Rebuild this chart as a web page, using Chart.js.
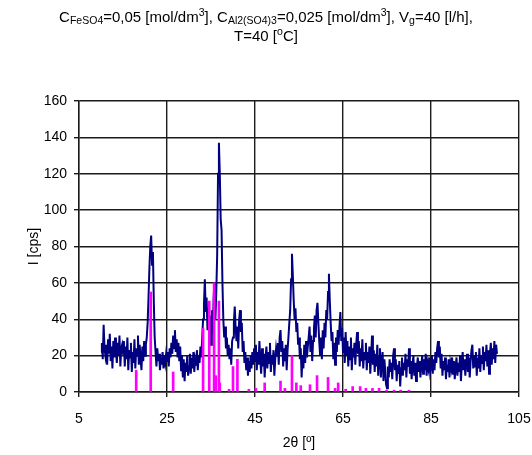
<!DOCTYPE html>
<html>
<head>
<meta charset="utf-8">
<script src="https://cdn.jsdelivr.net/npm/chart.js@4/dist/chart.umd.min.js"></script>
<style>
  html, body { margin: 0; padding: 0; background: #fff; }
  #wrap { position: relative; width: 532px; height: 455px; }
  #title {
    position: absolute; left: 0; top: 7px; width: 532px;
    text-align: center; font-family: "Liberation Sans", Arial, sans-serif;
    font-size: 15px; line-height: 19px; color: #000; z-index: 2;
  }
  #title sub, #title sup { font-size: 10.5px; line-height: 0; }
  #title sub { vertical-align: -2px; }
  #title sup { vertical-align: 6px; }
  canvas { position: absolute; left: 0; top: 0; }
</style>
</head>
<body>
<div id="wrap">
  <canvas id="xrd" width="532" height="455"></canvas>
  <div id="title">C<sub>FeSO4</sub>=0,05 [mol/dm<sup>3</sup>], C<sub>Al2(SO4)3</sub>=0,025 [mol/dm<sup>3</sup>], V<sub>g</sub>=40 [l/h],<br>T=40 [<sup>o</sup>C]</div>
</div>
<script>
// Diffraction scan: 2θ from 10° to 100°, 0.2° step
const scanStart = 10.0;
const scanStep = 0.2;
const intensity = [
  // 10.0 – 14.8
  22, 27, 18, 37, 24, 20, 26, 15, 29, 21, 32, 17, 25, 13, 28, 19, 30, 22, 16, 27, 20, 31, 14, 24, 26,
  // 15.0 – 19.8
  21, 28, 14, 25, 18, 30, 12, 23, 19, 27, 11, 22, 16, 29, 13, 24, 20, 31, 15, 26, 18, 12, 25, 17, 28,
  // 20.0 – 24.8
  20, 26, 30, 38, 52, 68, 80, 86, 70, 77, 50, 30, 22, 14, 24, 17, 21, 12, 19, 15, 22, 13, 20, 16, 21,
  // 25.0 – 29.8
  17, 22, 14, 24, 19, 27, 21, 31, 24, 34, 22, 29, 19, 27, 17, 25, 12, 20, 8, 18, 6, 16, 11, 20, 9,
  // 30.0 – 34.8
  14, 21, 10, 19, 13, 22, 11, 18, 15, 23, 12, 20, 16, 25, 19, 30, 40, 48, 62, 44, 52, 34, 46, 28, 42,
  // 35.0 – 39.8
  26, 45, 32, 52, 60, 40, 55, 75, 120, 137, 120, 95, 89, 60, 40, 30, 36, 24, 30, 20, 26, 18, 24, 15, 28,
  // 40.0 – 44.8
  30, 38, 47, 35, 28, 36, 24, 40, 45, 33, 38, 22, 28, 16, 22, 12, 19, 9, 17, 11, 20, 13, 22, 15, 24,
  // 45.0 – 49.8
  17, 26, 12, 22, 15, 28, 18, 10, 24, 14, 21, 8, 19, 25, 13, 22, 16, 27, 11, 20, 15, 23, 9, 18, 24,
  // 50.0 – 54.8
  20, 27, 15, 30, 34, 22, 28, 14, 24, 17, 26, 12, 23, 30, 38, 45, 62, 76, 64, 50, 40, 46, 33, 38, 26,
  // 55.0 – 59.8
  30, 18, 24, 8, 20, 13, 26, 16, 28, 19, 25, 30, 36, 22, 31, 17, 28, 35, 42, 30, 45, 49, 38, 28, 20,
  // 60.0 – 64.8
  30, 18, 34, 24, 38, 30, 45, 40, 55, 65, 50, 38, 28, 33, 18, 27, 15, 30, 22, 34, 26, 36, 44, 28, 35,
  // 65.0 – 69.8
  22, 30, 16, 33, 20, 28, 14, 25, 18, 30, 12, 24, 19, 27, 15, 26, 33, 21, 28, 14, 24, 17, 29, 13, 22,
  // 70.0 – 74.8
  18, 27, 12, 22, 16, 25, 10, 20, 31, 15, 23, 11, 21, 14, 26, 9, 19, 24, 8, 17, 22, 6, 18, 12, 4,
  // 75.0 – 79.8
  2, 14, 8, 18, 11, 16, 7, 20, 24, 12, 18, 6, 15, 10, 17, 3, 13, 19, 9, 16, 12, 21, 8, 18, 14,
  // 80.0 – 84.8
  24, 10, 17, 7, 15, 20, 9, 16, 6, 14, 19, 11, 17, 8, 15, 20, 10, 18, 12, 21, 9, 16, 13, 19, 11,
  // 85.0 – 89.8
  14, 20, 10, 18, 12, 22, 16, 24, 28, 19, 25, 13, 21, 9, 17, 12, 19, 7, 15, 11, 18, 8, 16, 13, 19,
  // 90.0 – 94.8
  10, 17, 7, 14, 19, 9, 16, 11, 20, 6, 15, 22, 12, 18, 9, 16, 21, 11, 19, 8, 17, 23, 26, 13, 20,
  // 95.0 – 100.0
  14, 22, 9, 19, 13, 24, 11, 20, 16, 25, 12, 22, 17, 26, 14, 23, 10, 21, 27, 15, 24, 18, 28, 16, 26, 21
];

// Reference line positions (2θ) and relative intensities
const refAngles = [18.0, 21.3, 26.4, 33.2, 34.6, 35.7, 36.1, 36.8, 37.0, 39.1, 40.0, 41.0, 43.6, 45.2,
  47.2, 50.8, 51.8, 53.4, 54.4, 55.4, 57.5, 59.1, 61.6, 63.2, 63.9, 65.6, 67.2, 68.9, 70.2, 71.7,
  73.2, 74.9, 76.6, 78.1, 80.0];
const refIntensity = [12, 55, 11, 35, 50, 60, 9, 50, 5, 1.5, 14, 18, 1.5, 2,
  5, 6, 2, 20, 5, 3.5, 4, 9, 8, 2, 5, 1.5, 3, 3, 2, 2,
  2, 1, 1, 1, 1];

const xTicks = { min: 5, max: 105, step: 20 };
const yTicks = { min: 0, max: 160, step: 20 };

const scanPoints = intensity.map((v, i) => ({ x: +(scanStart + i * scanStep).toFixed(1), y: v }));
const refPoints = refAngles.map((a, i) => ({ x: a, y: refIntensity[i] }));

const font = { family: '"Liberation Sans", Arial, sans-serif', size: 14 };
const gridColor = '#1a1a1a';

new Chart(document.getElementById('xrd'), {
  type: 'line',
  data: {
    datasets: [
      {
        type: 'bar',
        data: refPoints,
        backgroundColor: '#ff00ff',
        borderWidth: 0,
        barThickness: 2,
        order: 0
      },
      {
        type: 'line',
        data: scanPoints,
        borderColor: '#000080',
        borderWidth: 2,
        pointRadius: 0,
        tension: 0,
        fill: false,
        order: 1
      }
    ]
  },
  options: {
    responsive: false,
    animation: false,
    devicePixelRatio: 1,
    layout: { padding: { top: 101, right: 13, left: 0, bottom: 0 } },
    plugins: { legend: { display: false }, tooltip: { enabled: false } },
    scales: {
      x: {
        type: 'linear',
        offset: false,
        min: xTicks.min, max: xTicks.max,
        afterFit: s => { s.height = 63; s.paddingLeft = 0; s.paddingRight = 0; },
        ticks: { stepSize: xTicks.step, color: '#000', font, padding: 14, maxRotation: 0 },
        grid: { color: gridColor, lineWidth: 1.4, tickLength: 5, offset: false },
        border: { color: gridColor, width: 1.4 },
        title: { display: true, text: '2θ [º]', color: '#000', font, padding: { top: 0, bottom: 3 } }
      },
      y: {
        min: yTicks.min, max: yTicks.max,
        afterFit: s => { s.width = 79; },
        ticks: { stepSize: yTicks.step, color: '#000', font, padding: 7 },
        grid: { color: gridColor, lineWidth: 1.4, tickLength: 5 },
        border: { color: gridColor, width: 1.4 },
        title: { display: true, text: 'I [cps]', color: '#000', font, padding: { top: 26, bottom: 0 } }
      }
    }
  }
});
</script>
</body>
</html>
